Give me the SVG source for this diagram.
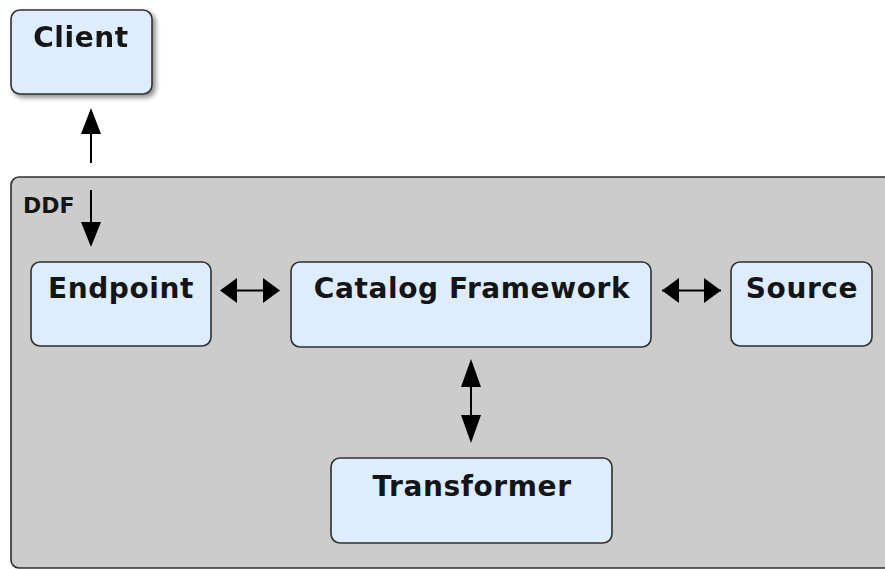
<svg xmlns="http://www.w3.org/2000/svg" width="885" height="569" viewBox="0 0 885 569">
<defs>
<style>
.box{fill:#ddedfd;stroke:#2f2f2f;stroke-width:1.6}
.lbl{font-family:"DejaVu Sans",Verdana,sans-serif;font-weight:bold;font-size:28px;letter-spacing:0.6px;fill:#151515;text-anchor:middle}
.ln{stroke:#000;stroke-width:2;fill:none}
.hd{fill:#000}
</style>
<filter id="sh" x="-10%" y="-10%" width="130%" height="140%">
<feGaussianBlur in="SourceAlpha" stdDeviation="2.5"/>
<feOffset dx="3" dy="3" result="b"/>
<feComponentTransfer><feFuncA type="linear" slope="0.45"/></feComponentTransfer>
<feMerge><feMergeNode/><feMergeNode in="SourceGraphic"/></feMerge>
</filter>
</defs>
<rect width="885" height="569" fill="#fff"/>
<g id="ddf">
<rect x="11" y="177" width="890" height="391" rx="8" fill="#cccccc" stroke="#2f2f2f" stroke-width="1.6"/>
<text x="23" y="213" style="font-family:'DejaVu Sans',Verdana,sans-serif;font-weight:bold;font-size:22px;fill:#151515">DDF</text>
</g>
<g id="client" filter="url(#sh)">
<rect class="box" x="11" y="10" width="141" height="84" rx="9"/>
<text class="lbl" x="81" y="47">Client</text>
</g>
<g id="endpoint">
<rect class="box" x="31" y="262" width="180" height="84" rx="9"/>
<text class="lbl" x="121" y="298">Endpoint</text>
</g>
<g id="catalog">
<rect class="box" x="291" y="262" width="360" height="85" rx="9"/>
<text class="lbl" x="472" y="298">Catalog Framework</text>
</g>
<g id="source">
<rect class="box" x="731" y="262" width="141" height="84" rx="9"/>
<text class="lbl" x="802" y="298">Source</text>
</g>
<g id="transformer">
<rect class="box" x="331" y="458" width="281" height="85" rx="9"/>
<text class="lbl" x="472" y="496">Transformer</text>
</g>
<g id="connectors">
<line class="ln" x1="91" y1="163" x2="91" y2="130"/>
<polygon class="hd" points="91,108 101,134 81,134"/>
<line class="ln" x1="91" y1="190" x2="91" y2="225"/>
<polygon class="hd" points="91,247 101,222 81,222"/>
<line class="ln" x1="234" y1="290.5" x2="265" y2="290.5"/>
<polygon class="hd" points="220,290.5 237,278 237,303"/>
<polygon class="hd" points="280,290.5 263,278 263,303"/>
<line class="ln" x1="662" y1="290.5" x2="721" y2="290.5"/>
<polygon class="hd" points="662,290.5 679,278 679,303"/>
<polygon class="hd" points="721,290.5 704,278 704,303"/>
<line class="ln" x1="471" y1="385" x2="471" y2="418"/>
<polygon class="hd" points="471,359 481,387 461,387"/>
<polygon class="hd" points="471,443 481,415 461,415"/>
</g>
</svg>
